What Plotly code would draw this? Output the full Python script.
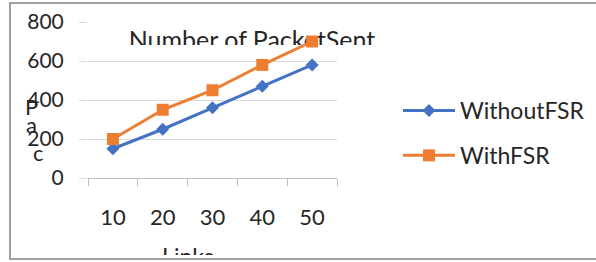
import plotly.graph_objects as go

# ---- data ----
links = ["10", "20", "30", "40", "50"]
without_fsr = [150, 250, 360, 470, 580]
with_fsr = [200, 350, 450, 580, 700]
y_ticks = [0, 200, 400, 600, 800]
chart_title = "Number of PacketSent"
x_title = "Links"
y_title_letters = ["P", "a", "c"]

W, H = 596, 262
FONT = "Lato, 'Open Sans', sans-serif"
TXT = "#262626"
BLUE = "#4472C4"
ORANGE = "#ED7D31"


def px_x(p):
    return p / W


def px_y(p):
    return 1 - p / H


fig = go.Figure()

# title (clipped by its own small subplot)
fig.add_trace(go.Scatter(
    x=[252], y=[43], text=[chart_title], mode="text",
    textfont=dict(family=FONT, size=25, color=TXT),
    cliponaxis=True, showlegend=False, hoverinfo="skip",
    xaxis="x2", yaxis="y2"))

# x axis title (clipped at the bottom)
fig.add_trace(go.Scatter(
    x=[188], y=[259], text=[x_title], mode="text",
    textfont=dict(family=FONT, size=23, color=TXT),
    cliponaxis=True, showlegend=False, hoverinfo="skip",
    xaxis="x3", yaxis="y3"))

# data series
fig.add_trace(go.Scatter(
    x=links, y=without_fsr, name="WithoutFSR", mode="lines+markers",
    line=dict(color=BLUE, width=3),
    marker=dict(symbol="diamond", size=10, color=BLUE),
    legendgroup="a",
    xaxis="x4", yaxis="y4"))
fig.add_trace(go.Scatter(
    x=links, y=with_fsr, name="WithFSR", mode="lines+markers",
    line=dict(color=ORANGE, width=3),
    marker=dict(symbol="square", size=12, color=ORANGE),
    legendgroup="b",
    xaxis="x4", yaxis="y4"))

aux = dict(visible=False, showgrid=False, zeroline=False, fixedrange=True,
           automargin=False)

fig.update_layout(
    template="none",
    width=W, height=H, autosize=False,
    margin=dict(l=0, r=0, t=0, b=0, pad=0),
    paper_bgcolor="white", plot_bgcolor="rgba(0,0,0,0)",
    font=dict(family=FONT, color=TXT),
    xaxis2=dict(domain=[0, 1], range=[0, W], anchor="y2", **aux),
    yaxis2=dict(domain=[px_y(45), 1], range=[45, 0], anchor="x2", **aux),
    xaxis3=dict(domain=[0, 1], range=[0, W], anchor="y3", **aux),
    yaxis3=dict(domain=[px_y(255), px_y(215)], range=[255, 215], anchor="x3", **aux),
    xaxis4=dict(
        domain=[px_x(88), px_x(337)], anchor="y4", automargin=False,
        type="category", range=[-0.5, 4.5],
        tickson="boundaries", ticks="outside", ticklen=7, tickcolor="#bfbfbf",
        showline=True, linecolor="#bfbfbf", linewidth=1,
        showgrid=False, zeroline=False,
        tickfont=dict(family=FONT, size=22, color=TXT),
        ticklabelstandoff=20,
    ),
    yaxis4=dict(
        domain=[px_y(178), px_y(22)], anchor="x4", automargin=False,
        range=[0, 800], tickvals=y_ticks,
        ticks="outside", ticklen=8, tickcolor="#d9d9d9",
        showgrid=True, gridcolor="#d9d9d9", gridwidth=1,
        showline=False, zeroline=False,
        tickfont=dict(family=FONT, size=21, color=TXT),
        ticklabelstandoff=11,
    ),
    showlegend=True,
    legend=dict(
        x=px_x(398), y=px_y(89), xanchor="left", yanchor="top",
        font=dict(family=FONT, size=23, color=TXT),
        itemwidth=52, tracegroupgap=12, traceorder="grouped",
        bgcolor="rgba(0,0,0,0)", borderwidth=0,
    ),
    shapes=[dict(
        type="rect", xref="paper", yref="paper",
        x0=px_x(10), x1=px_x(600), y0=px_y(259), y1=px_y(3),
        line=dict(color="#a0a0a0", width=2), layer="below")],
)

# stacked y-axis title letters
for letter, (xp, yp) in zip(y_title_letters, [(31, 106), (31, 124), (38, 152)]):
    fig.add_annotation(
        text=letter, xref="paper", yref="paper",
        x=px_x(xp), y=px_y(yp), xanchor="center", yanchor="middle",
        showarrow=False, font=dict(family=FONT, size=22, color=TXT))

fig.write_html("out.html",
               config={"displayModeBar": False},
               post_script="document.body.style.margin='0';"
                           "document.body.style.overflow='hidden';")
